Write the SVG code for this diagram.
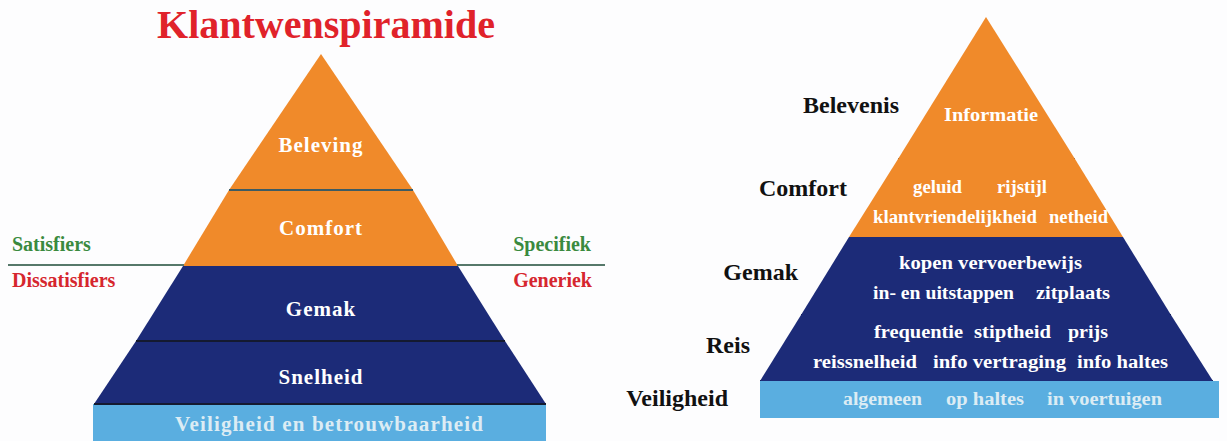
<svg xmlns="http://www.w3.org/2000/svg" width="1227" height="441" viewBox="0 0 1227 441">
<style>
text{font-family:'Liberation Serif','Times New Roman','DejaVu Serif',serif;font-weight:700}
.w{fill:#ffffff;text-anchor:middle}
.ws{fill:#ffffff;font-size:18px}
.wl{fill:#dcecf4;font-size:18px}
.k{fill:#111111;text-anchor:end;font-size:24px}
.g{fill:#3a8a3e;font-size:20px}
.r{fill:#d6262e;font-size:20px}
.or{fill:#f08a2a}
.db{fill:#1c2b78}
.lb{fill:#5aaee0}
.sep{stroke:#141a30;stroke-width:2}
.sepo{stroke:#3d5b63;stroke-width:2}
.div{stroke:#56786a;stroke-width:2}
</style>
<rect width="1227" height="441" fill="#fdfdfe"/>
<text x="157" y="38" font-size="39" fill="#e0222a" textLength="338" lengthAdjust="spacingAndGlyphs">Klantwenspiramide</text>

<g id="left-pyramid">
  <g id="l-beleving"><polygon class="or" points="321,54 229,190 413,190"/><text class="w" x="321" y="152" font-size="21" letter-spacing="1">Beleving</text></g>
  <g id="l-comfort"><polygon class="or" points="229,190 413,190 458,266 183,266"/><text class="w" x="321" y="235" font-size="21" letter-spacing="1">Comfort</text></g>
  <g id="l-gemak"><polygon class="db" points="183,266 458,266 505,341 136,341"/><text class="w" x="321" y="316" font-size="21" letter-spacing="1">Gemak</text></g>
  <g id="l-snelheid"><polygon class="db" points="136,341 505,341 546,404 94,404"/><text class="w" x="321" y="384" font-size="21" letter-spacing="1">Snelheid</text></g>
  <g id="l-veiligheid"><rect class="lb" x="93" y="404" width="453" height="37"/><text x="175" y="431" font-size="21" fill="#dcecf4" textLength="308" lengthAdjust="spacing">Veiligheid en betrouwbaarheid</text></g>
</g>

<g id="connectors">
  <line class="sepo" x1="229" y1="190" x2="413" y2="190"/>
  <line class="sep" x1="136" y1="341" x2="505" y2="341"/>
  <line class="sep" x1="94" y1="404" x2="546" y2="404"/>
  <line class="div" x1="8" y1="265" x2="184" y2="265"/>
  <line class="div" x1="457" y1="265" x2="605" y2="265"/>
  <line class="sepo" x1="898" y1="159" x2="1075" y2="159"/>
  <line class="sep" x1="801" y1="315" x2="1171" y2="315"/>
  <line class="sep" x1="760" y1="381" x2="1213" y2="381"/>
</g>

<g id="side-labels">
  <text class="g" x="12" y="251">Satisfiers</text>
  <text class="r" x="12" y="287">Dissatisfiers</text>
  <text class="g" x="591" y="251" text-anchor="end">Specifiek</text>
  <text class="r" x="592" y="287" text-anchor="end">Generiek</text>
</g>

<g id="right-pyramid">
  <g id="r-belevenis"><polygon class="or" points="986,17 898,159 1075,159"/>
    <text class="ws" x="944" y="121" textLength="94" lengthAdjust="spacingAndGlyphs">Informatie</text></g>
  <g id="r-comfort"><polygon class="or" points="898,159 1075,159 1123,237 849,237"/>
    <text class="ws" x="913" y="193" textLength="49" lengthAdjust="spacingAndGlyphs">geluid</text>
    <text class="ws" x="997" y="193" textLength="50" lengthAdjust="spacingAndGlyphs">rijstijl</text>
    <text class="ws" x="873" y="223" textLength="164" lengthAdjust="spacingAndGlyphs">klantvriendelijkheid</text>
    <text class="ws" x="1049" y="223" textLength="59" lengthAdjust="spacingAndGlyphs">netheid</text></g>
  <g id="r-gemak"><polygon class="db" points="849,237 1123,237 1171,315 801,315"/>
    <text class="ws" x="899" y="269" textLength="183" lengthAdjust="spacingAndGlyphs">kopen vervoerbewijs</text>
    <text class="ws" x="873" y="299" textLength="141" lengthAdjust="spacingAndGlyphs">in- en uitstappen</text>
    <text class="ws" x="1036" y="299" textLength="74" lengthAdjust="spacingAndGlyphs">zitplaats</text></g>
  <g id="r-reis"><polygon class="db" points="801,315 1171,315 1213,381 760,381"/>
    <text class="ws" x="874" y="338" textLength="89" lengthAdjust="spacingAndGlyphs">frequentie</text>
    <text class="ws" x="974" y="338" textLength="77" lengthAdjust="spacingAndGlyphs">stiptheid</text>
    <text class="ws" x="1068" y="338" textLength="40" lengthAdjust="spacingAndGlyphs">prijs</text>
    <text class="ws" x="813" y="368" textLength="104" lengthAdjust="spacingAndGlyphs">reissnelheid</text>
    <text class="ws" x="933" y="368" textLength="133" lengthAdjust="spacingAndGlyphs">info vertraging</text>
    <text class="ws" x="1077" y="368" textLength="91" lengthAdjust="spacingAndGlyphs">info haltes</text></g>
  <g id="r-veiligheid"><rect class="lb" x="760" y="381" width="459" height="37"/>
    <text class="wl" x="843" y="405" textLength="79" lengthAdjust="spacingAndGlyphs">algemeen</text>
    <text class="wl" x="946" y="405" textLength="78" lengthAdjust="spacingAndGlyphs">op haltes</text>
    <text class="wl" x="1047" y="405" textLength="115" lengthAdjust="spacingAndGlyphs">in voertuigen</text></g>
</g>

<g id="category-labels">
  <text class="k" x="899" y="113">Belevenis</text>
  <text class="k" x="847" y="196">Comfort</text>
  <text class="k" x="798" y="280">Gemak</text>
  <text class="k" x="750" y="353">Reis</text>
  <text class="k" x="728" y="406">Veiligheid</text>
</g>
</svg>
